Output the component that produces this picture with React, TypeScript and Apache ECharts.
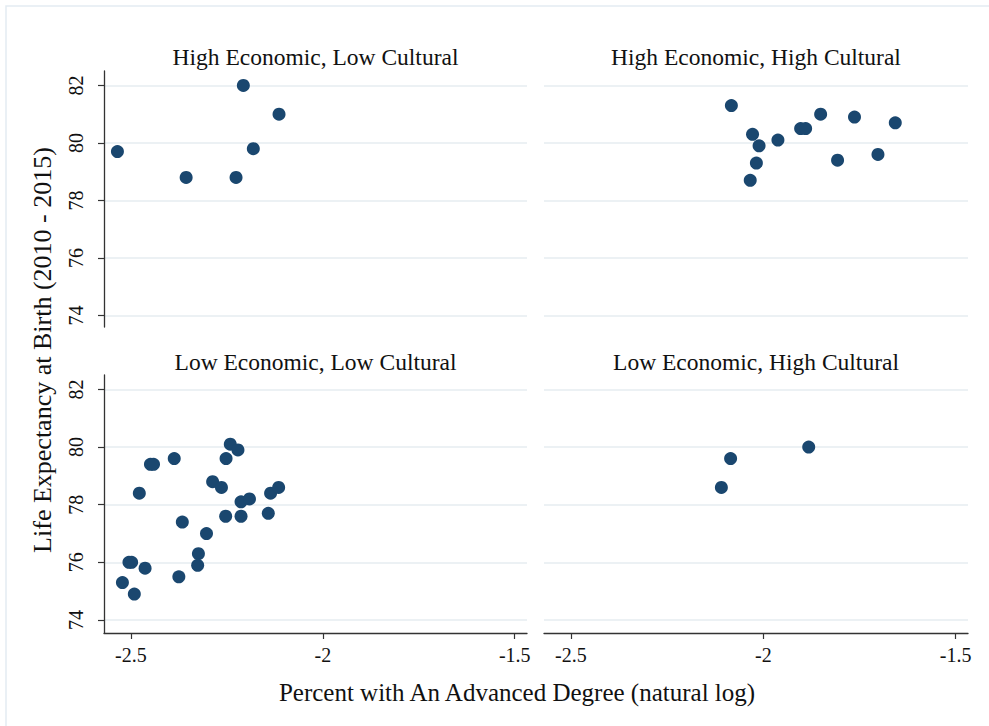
import React, { useEffect, useRef } from "react";
import * as echarts from "echarts";

// Panel titles
const panelTitles = [
  "High Economic, Low Cultural",
  "High Economic, High Cultural",
  "Low Economic, Low Cultural",
  "Low Economic, High Cultural",
];

// High Economic, Low Cultural
const heLcX = [-2.535, -2.356, -2.207, -2.226, -2.181, -2.114];
const heLcY = [79.7, 78.8, 82.0, 78.8, 79.8, 81.0];

// High Economic, High Cultural
const heHcX = [-2.083, -2.028, -2.011, -2.018, -2.034, -1.962, -1.903, -1.89, -1.851, -1.807, -1.763, -1.702, -1.657];
const heHcY = [81.3, 80.3, 79.9, 79.3, 78.7, 80.1, 80.5, 80.5, 81.0, 79.4, 80.9, 79.6, 80.7];

// Low Economic, Low Cultural
const leLcX = [-2.241, -2.221, -2.252, -2.387, -2.449, -2.441, -2.478, -2.287, -2.264, -2.213, -2.191, -2.136, -2.115, -2.253, -2.213, -2.142, -2.366, -2.303, -2.324, -2.326, -2.505, -2.498, -2.463, -2.522, -2.375, -2.491];
const leLcY = [80.1, 79.9, 79.6, 79.6, 79.4, 79.4, 78.4, 78.8, 78.6, 78.1, 78.2, 78.4, 78.6, 77.6, 77.6, 77.7, 77.4, 77.0, 76.3, 75.9, 76.0, 76.0, 75.8, 75.3, 75.5, 74.9];

// Low Economic, High Cultural
const leHcX = [-1.882, -2.085, -2.109];
const leHcY = [80.0, 79.6, 78.6];

const xTicks = [-2.5, -2, -1.5];
const yTicks = [74, 76, 78, 80, 82];

const xTitle = "Percent with An Advanced Degree (natural log)";
const yTitle = "Life Expectancy at Birth (2010 - 2015)";

const FONT = "Liberation Serif";
const MARK = "#1a476f";
const GRID_LINE = "#e6edf1";

export default function App() {
  const ref = useRef<HTMLDivElement>(null);
  useEffect(() => {
    if (!ref.current) return;
    const chart = echarts.init(ref.current, null, { renderer: "svg" });

    const grids = [
      { left: 104, top: 71, width: 423, height: 256 },
      { left: 544, top: 71, width: 424, height: 256 },
      { left: 104, top: 375, width: 423, height: 258 },
      { left: 544, top: 375, width: 424, height: 258 },
    ];
    const yRanges = [
      [73.6, 82.5],
      [73.6, 82.5],
      [73.55, 82.5],
      [73.55, 82.5],
    ];

    const xAxes = grids.map((_, i) => ({
      type: "value",
      gridIndex: i,
      min: -2.57,
      max: -1.468,
      show: i >= 2,
      axisLine: { show: true, onZero: false, lineStyle: { color: "#333", width: 1.3 } },
      axisTick: { show: true, customValues: xTicks, length: 6, lineStyle: { color: "#333", width: 1.2 } },
      axisLabel: {
        show: true,
        customValues: xTicks,
        formatter: (v: number) => String(v),
        fontFamily: FONT,
        fontSize: 20,
        color: "#111",
        margin: 12,
      },
      splitLine: { show: false },
    }));

    const yAxes = grids.map((_, i) => {
      const left = i % 2 === 0;
      return {
        type: "value",
        gridIndex: i,
        min: yRanges[i][0],
        max: yRanges[i][1],
        axisLine: { show: left, onZero: false, lineStyle: { color: "#333", width: 1.3 } },
        axisTick: { show: left, customValues: yTicks, length: 6, lineStyle: { color: "#333", width: 1.2 } },
        axisLabel: {
          show: left,
          customValues: yTicks,
          rotate: 90,
          fontFamily: FONT,
          fontSize: 20,
          color: "#111",
          margin: 18,
        },
        splitLine: { show: true, lineStyle: { color: GRID_LINE, width: 1.5 } },
      };
    });

    const sets = [
      [heLcX, heLcY],
      [heHcX, heHcY],
      [leLcX, leLcY],
      [leHcX, leHcY],
    ];
    const series = sets.map(([xs, ys], i) => ({
      type: "scatter",
      xAxisIndex: i,
      yAxisIndex: i,
      symbolSize: 13,
      itemStyle: { color: MARK, opacity: 1 },
      data: xs.map((x, j) => [x, ys[j]]),
    }));

    const titles = panelTitles.map((t, i) => ({
      text: t,
      left: grids[i].left + grids[i].width / 2 - 5,
      top: i < 2 ? 40 : 345,
      textAlign: "center",
      textStyle: { fontFamily: FONT, fontSize: 23.5, fontWeight: "normal", color: "#111" },
    }));

    chart.setOption({
      animation: false,
      backgroundColor: "#ffffff",
      title: titles,
      grid: grids,
      xAxis: xAxes,
      yAxis: yAxes,
      series,
      graphic: [
        {
          type: "rect",
          shape: { x: 6, y: 6, width: 1100, height: 900 },
          style: { fill: "none", stroke: "#e3ebf2", lineWidth: 1.5 },
          silent: true,
          z: -1,
        },
        {
          type: "text",
          x: 42,
          y: 350,
          rotation: Math.PI / 2,
          style: {
            text: yTitle,
            fontFamily: FONT,
            fontSize: 26,
            fill: "#111",
            align: "center",
            verticalAlign: "middle",
          },
        },
        {
          type: "text",
          x: 517,
          y: 692,
          style: {
            text: xTitle,
            fontFamily: FONT,
            fontSize: 25,
            fill: "#111",
            align: "center",
            verticalAlign: "middle",
          },
        },
      ],
    });
    return () => chart.dispose();
  }, []);
  return (
    <div
      ref={ref}
      style={{ position: "fixed", left: 0, top: 0, width: 989, height: 726, background: "#fff" }}
    />
  );
}
